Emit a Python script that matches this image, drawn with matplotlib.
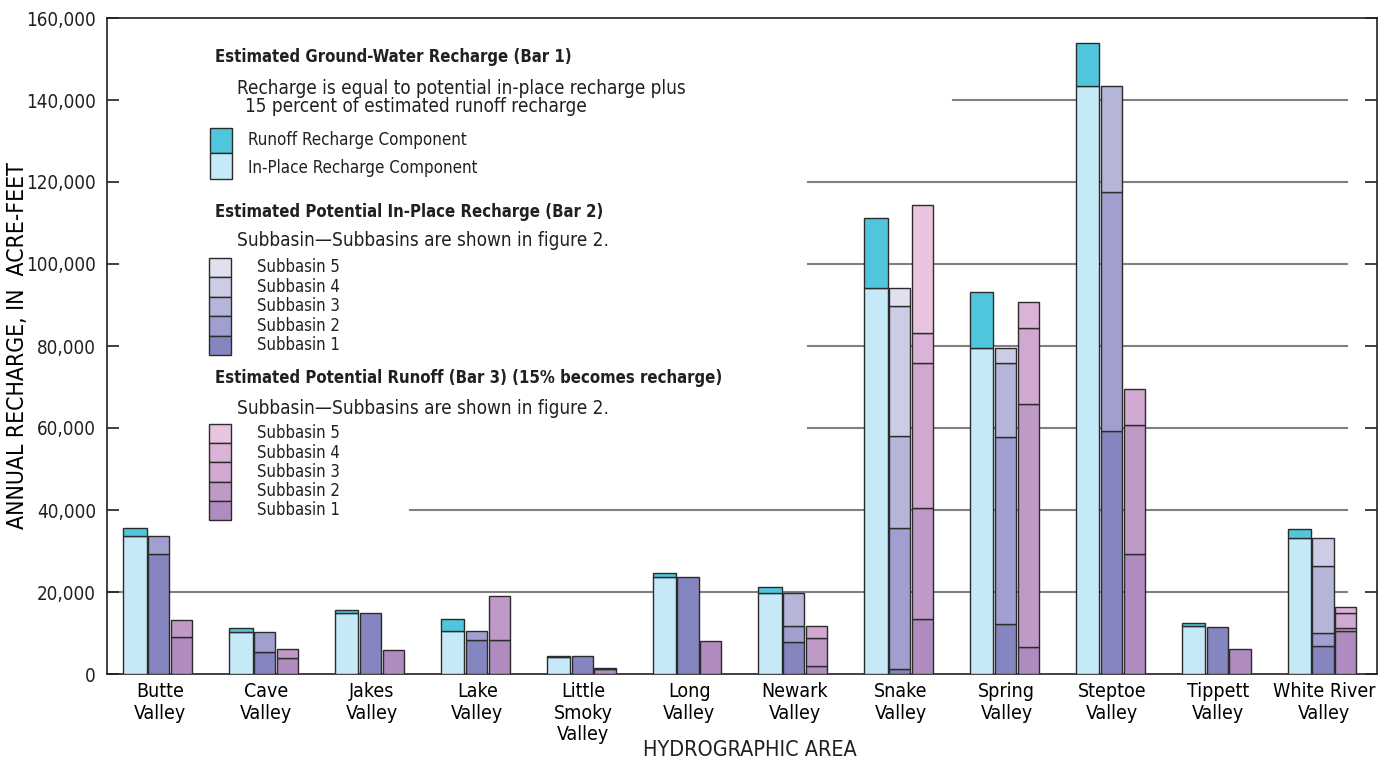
import matplotlib
matplotlib.use("Agg")
import matplotlib.pyplot as plt
import matplotlib.ticker as mticker
from matplotlib.patches import Rectangle
import numpy as np

# condensed face, closest to the Univers Condensed of the original
plt.rcParams['font.family'] = ['DejaVu Sans']
plt.rcParams['font.stretch'] = 'condensed'
plt.rcParams['text.color'] = '#231f20'

# hydrographic areas
valleys = ["Butte\nValley", "Cave\nValley", "Jakes\nValley", "Lake\nValley",
           "Little\nSmoky\nValley", "Long\nValley", "Newark\nValley", "Snake\nValley",
           "Spring\nValley", "Steptoe\nValley", "Tippett\nValley", "White River\nValley"]

# Bar 1 - estimated ground-water recharge (acre-feet)
inplace_component = [33600, 10200, 15000, 10500, 4100, 23600, 19800, 94100, 79500, 143300, 11600, 33100]
runoff_component = [1900, 900, 700, 2800, 400, 1100, 1500, 17200, 13600, 10600, 900, 2300]

# Bar 2 - potential in-place recharge by subbasin (acre-feet)
inplace_sub1 = [29200, 5400, 15000, 8300, 4300, 23600, 7700, 1300, 12300, 59200, 11500, 6800]
inplace_sub2 = [4400, 4800, 0, 2300, 0, 0, 3900, 34200, 45600, 58400, 0, 3100]
inplace_sub3 = [0, 0, 0, 0, 0, 0, 8100, 22600, 18000, 25700, 0, 16500]
inplace_sub4 = [0, 0, 0, 0, 0, 0, 0, 31700, 3700, 0, 0, 6800]
inplace_sub5 = [0, 0, 0, 0, 0, 0, 0, 4300, 0, 0, 0, 0]

# Bar 3 - potential runoff by subbasin (acre-feet)
runoff_sub1 = [9000, 3800, 5800, 8300, 1100, 8000, 2000, 13500, 6500, 29300, 6100, 10500]
runoff_sub2 = [4100, 2200, 0, 10800, 400, 0, 6800, 27000, 59300, 31500, 0, 600]
runoff_sub3 = [0, 0, 0, 0, 0, 0, 2800, 35300, 18700, 8600, 0, 3700]
runoff_sub4 = [0, 0, 0, 0, 0, 0, 0, 7400, 6200, 0, 0, 1600]
runoff_sub5 = [0, 0, 0, 0, 0, 0, 0, 31300, 0, 0, 0, 0]

c_inplace = '#c6e9f7'
c_runoff = '#50c6dc'
c_bar2 = ['#8585bf', '#a09fcf', '#b5b5d9', '#cccce6', '#e0e0ee']
c_bar3 = ['#b08bbf', '#c09ac6', '#d0a8d0', '#dab3d7', '#e8c4de']
edge = '#2b2b2b'

W, H = 1385, 765
fig = plt.figure(figsize=(W / 100, H / 100), dpi=100)
ax = fig.add_axes([107 / W, 1 - 674 / H, 1270 / W, 656 / H])

x = np.arange(len(valleys))

def stack(ax, xpos, width, layers, colors):
    bottom = np.zeros(len(xpos))
    for vals, col in zip(layers, colors):
        vals = np.array(vals, dtype=float)
        m = vals > 0
        ax.bar(xpos[m], vals[m], width, bottom=bottom[m], color=col,
               edgecolor=edge, linewidth=1.0, zorder=3)
        bottom += vals

stack(ax, x - 0.235, 0.22, [inplace_component, runoff_component], [c_inplace, c_runoff])
stack(ax, x - 0.01, 0.2, [inplace_sub1, inplace_sub2, inplace_sub3, inplace_sub4, inplace_sub5], c_bar2)
stack(ax, x + 0.205, 0.2, [runoff_sub1, runoff_sub2, runoff_sub3, runoff_sub4, runoff_sub5], c_bar3)

# gridlines, cut back where the explanation sits
grid_y = [20000, 40000, 60000, 80000, 100000, 120000, 140000]
grid_start = [0.0, 0.2386, 0.552, 0.552, 0.552, 0.552, 0.666]
for gy, gs in zip(grid_y, grid_start):
    ax.plot([gs, 0.976], [gy, gy], transform=ax.get_yaxis_transform(),
            color='#808080', linewidth=1.5, zorder=1)

ax.set_xlim(-0.5, 11.5)
ax.set_ylim(0, 160000)
ax.set_yticks(range(0, 160001, 20000))
ax.yaxis.set_major_formatter(mticker.FuncFormatter(lambda v, p: f"{int(v):,}"))
ax.tick_params(axis='y', direction='in', length=8.5, width=1.2, right=True,
               labelsize=13.5, pad=8, colors='#231f20')
ax.set_xticks(x)
ax.set_xticklabels(valleys, fontsize=14, linespacing=1.15)
ax.tick_params(axis='x', length=0, pad=6)
for s in ax.spines.values():
    s.set_linewidth(1.2)
    s.set_color('#231f20')

ax.set_ylabel("ANNUAL RECHARGE, IN  ACRE-FEET", fontsize=16.5)
ax.yaxis.set_label_coords(-78 / 1270, 0.5)
fig.text(750 / W, 1 - 750 / H, "HYDROGRAPHIC AREA", fontsize=15.5, ha='center', va='center')

# explanation
def fx(px):
    return px / W

def fy(py):
    return 1 - py / H

def txt(px, py, s, size, bold=False):
    fig.text(fx(px), fy(py), s, fontsize=size, ha='left', va='center',
             fontweight='bold' if bold else 'normal')

def swatch(px, py_top, py_bot, col):
    fig.patches.append(Rectangle((fx(px), fy(py_bot)), 22 / W, (py_bot - py_top) / H,
                                 transform=fig.transFigure, facecolor=col,
                                 edgecolor=edge, linewidth=1.0, zorder=5))

txt(215, 57, "Estimated Ground-Water Recharge (Bar 1)", 12, bold=True)
txt(237, 88, "Recharge is equal to potential in-place recharge plus", 13.6)
txt(245, 107, "15 percent of estimated runoff recharge", 13.6)
swatch(210, 128, 153, c_runoff)
swatch(210, 153, 179, c_inplace)
txt(248, 140, "Runoff Recharge Component", 12.2)
txt(248, 168, "In-Place Recharge Component", 12.2)

txt(215, 212, "Estimated Potential In-Place Recharge (Bar 2)", 12, bold=True)
txt(237, 241, "Subbasin\u2014Subbasins are shown in figure 2.", 13.6)
labels = ["Subbasin 5", "Subbasin 4", "Subbasin 3", "Subbasin 2", "Subbasin 1"]
for i, lab in enumerate(labels):
    top = 258 + i * 19.4
    swatch(209, top, top + 19.4, c_bar2[4 - i])
    txt(257, top + 9.5, lab, 12)

txt(215, 378, "Estimated Potential Runoff (Bar 3) (15% becomes recharge)", 12, bold=True)
txt(237, 408, "Subbasin\u2014Subbasins are shown in figure 2.", 13.6)
for i, lab in enumerate(labels):
    top = 424 + i * 19.2
    swatch(209, top, top + 19.2, c_bar3[4 - i])
    txt(257, top + 9.5, lab, 12)

fig.savefig("out.png", dpi=100)
